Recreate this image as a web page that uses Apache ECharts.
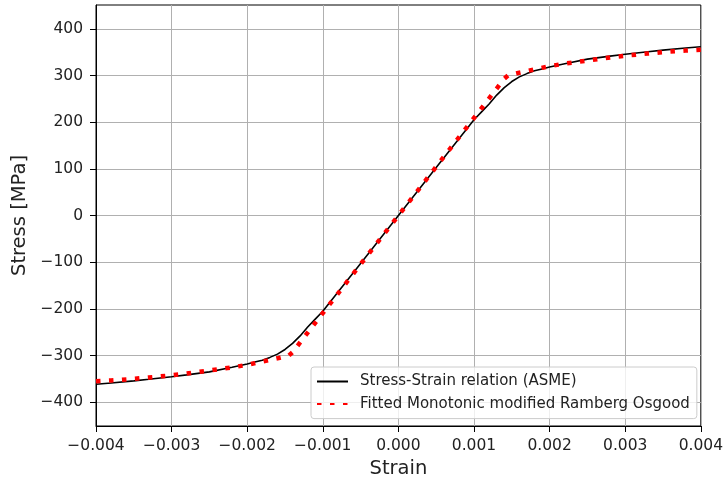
<!DOCTYPE html>
<html>
<head>
<meta charset="utf-8">
<script src="https://cdn.jsdelivr.net/npm/echarts@6/dist/echarts.min.js"></script>
<style>
  html, body { margin: 0; padding: 0; background: #fff; }
  #chart { width: 726px; height: 486px; }
</style>
</head>
<body>
<div id="chart"></div>
<script>
// Curva ASME (linea negra)
const asmeStrain = [-0.004, -0.0038, -0.0035, -0.0033, -0.003, -0.0028, -0.0025, -0.0022, -0.002, -0.0019, -0.0018, -0.0017, -0.0016, -0.0015, -0.0014, -0.0013, -0.0012, -0.0011, -0.001, -0.0005, 0, 0.0005, 0.001, 0.0011, 0.0012, 0.0013, 0.0014, 0.0015, 0.0016, 0.0017, 0.0018, 0.0019, 0.002, 0.0022, 0.0025, 0.0028, 0.003, 0.0033, 0.0035, 0.0038, 0.004];
const asmeStress = [-361.5, -358.8, -354.3, -351, -345.5, -341.5, -335, -325, -318, -314, -310, -304, -297, -287, -274, -258, -239, -222, -205, -103, 0, 103, 205, 222, 239, 258, 274, 287, 297, 304, 310, 314, 318, 325, 335, 341.5, 345.5, 351, 354.3, 358.8, 361.5];

// Ajuste Ramberg Osgood (linea roja punteada)
const fitStrain = [-0.004, -0.0038, -0.0035, -0.0033, -0.003, -0.0028, -0.0025, -0.0022, -0.002, -0.0018, -0.0016, -0.00145, -0.0014, -0.001, 0, 0.001, 0.0014, 0.00145, 0.0016, 0.0018, 0.002, 0.0022, 0.0025, 0.0028, 0.003, 0.0033, 0.0035, 0.0038, 0.004];
const fitStress = [-355, -353.5, -350, -347, -342.5, -338.5, -332, -325.5, -320, -313, -306, -300, -293, -209, 0, 209, 293, 300, 306, 313, 320, 325.5, 332, 338.5, 342.5, 347, 350, 353.5, 355];

const yTicks = [-400, -300, -200, -100, 0, 100, 200, 300, 400];

const font = 'DejaVu Sans';
const textColor = '#222';
const minus = v => (v < 0 ? '\u2212' : '');

const chart = echarts.init(document.getElementById('chart'));

const option = {
  animation: false,
  grid: {
    left: 96, right: 22, top: 5, bottom: 60,
    show: true, borderColor: '#000', borderWidth: 1
  },
  legend: {
    orient: 'vertical',
    left: 311, top: 367,
    padding: [7, 7, 7, 5],
    itemGap: 7.6,
    itemWidth: 31,
    itemHeight: 14,
    // solo la linea en el icono, sin el circulo
    itemStyle: { opacity: 0 },
    backgroundColor: 'rgba(255,255,255,0.8)',
    borderColor: '#cccccc',
    borderWidth: 1,
    borderRadius: 3,
    textStyle: { fontFamily: font, fontSize: 15, color: textColor, padding: [0, 0, 0, 7] },
    data: ['Stress-Strain relation (ASME)', 'Fitted Monotonic modified Ramberg Osgood']
  },
  xAxis: {
    type: 'value',
    min: -0.004, max: 0.004, interval: 0.001,
    name: 'Strain',
    nameLocation: 'middle',
    nameGap: 32,
    nameTextStyle: { fontFamily: font, fontSize: 19.5, color: textColor },
    axisLine: { show: true, onZero: false, lineStyle: { color: '#000', width: 1 } },
    axisTick: { show: true, inside: false, length: 6, lineStyle: { color: '#000' } },
    axisLabel: {
      fontFamily: font, fontSize: 15.5, color: textColor, margin: 12,
      formatter: v => minus(v) + Math.abs(v).toFixed(3)
    },
    splitLine: { show: true, lineStyle: { color: '#b0b0b0', width: 1 } }
  },
  yAxis: {
    type: 'value',
    min: -451, max: 451,
    name: 'Stress [MPa]',
    nameLocation: 'middle',
    nameGap: 62,
    nameTextStyle: { fontFamily: font, fontSize: 19.5, color: textColor },
    axisLine: { show: true, onZero: false, lineStyle: { color: '#000', width: 1 } },
    axisTick: { show: true, inside: false, length: 6, lineStyle: { color: '#000' }, customValues: yTicks },
    axisLabel: {
      fontFamily: font, fontSize: 15.5, color: textColor, margin: 13,
      customValues: yTicks,
      formatter: v => minus(v) + Math.abs(v)
    },
    splitLine: { show: true, lineStyle: { color: '#b0b0b0', width: 1 } }
  },
  series: [
    {
      name: 'Stress-Strain relation (ASME)',
      type: 'line',
      showSymbol: false,
      symbol: 'none',
      data: asmeStrain.map((x, i) => [x, asmeStress[i]]),
      lineStyle: { color: '#000', width: 1.6 },
      itemStyle: { color: '#000' },
      z: 2
    },
    {
      name: 'Fitted Monotonic modified Ramberg Osgood',
      type: 'line',
      showSymbol: false,
      symbol: 'none',
      data: fitStrain.map((x, i) => [x, fitStress[i]]),
      lineStyle: { color: '#ff0000', width: 4.5, type: [4.5, 8.5], cap: 'butt' },
      itemStyle: { color: '#ff0000' },
      z: 3
    }
  ]
};

chart.setOption(option);
</script>
</body>
</html>
